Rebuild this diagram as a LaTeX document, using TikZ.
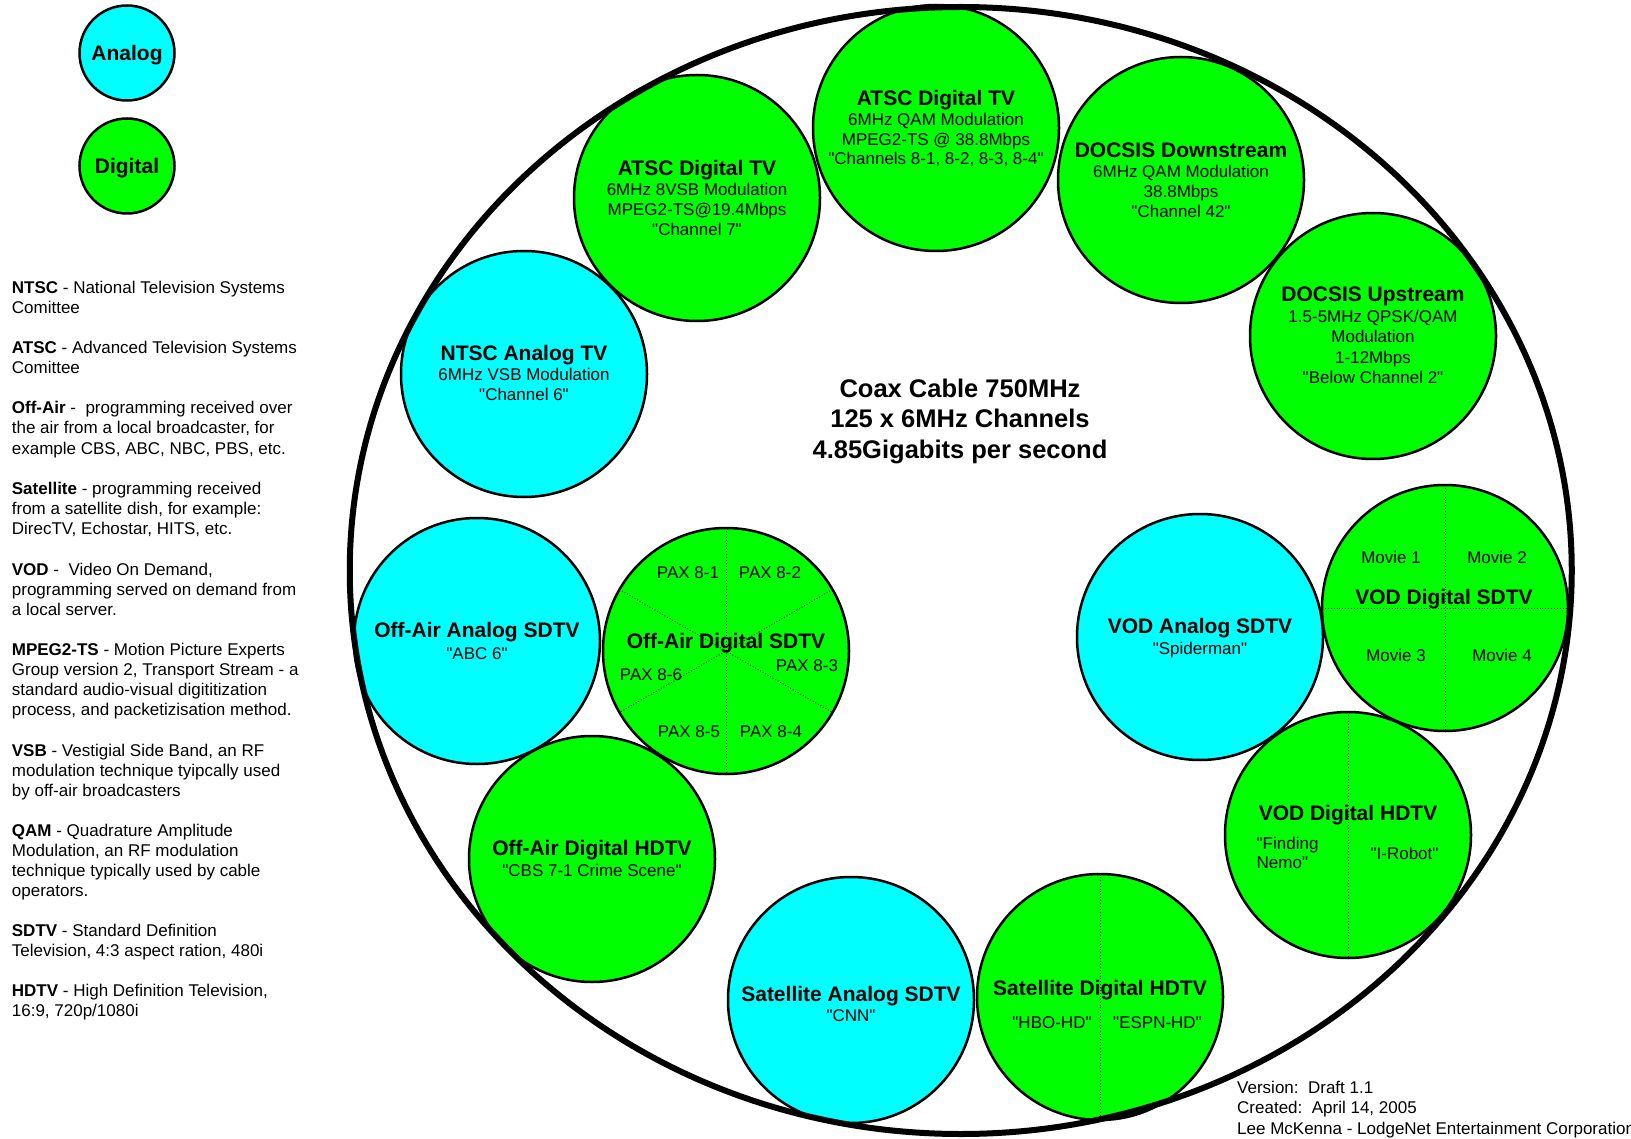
\documentclass[tikz,border=0pt]{standalone}
\usepackage{fontspec}
\setmainfont{Liberation Sans}[Ligatures=TeXOff]
\definecolor{cyanc}{RGB}{0,255,255}
\definecolor{greenc}{RGB}{0,255,0}
\begin{document}
\begin{tikzpicture}[x=1pt,y=-1pt,
  cab/.style={circle,draw=black,line width=2.5pt,minimum size=246pt,inner sep=0pt,outer sep=0pt},
  ana/.style={cab,fill=cyanc},
  dig/.style={cab,fill=greenc},
  ttl/.style={font=\fontsize{21}{21}\selectfont\bfseries,anchor=base,yshift=-7.5pt,inner sep=0pt},
  sb/.style={font=\fontsize{17}{17}\selectfont,anchor=base,yshift=-6pt,inner sep=0pt},
  sbl/.style={sb,anchor=base west},
  ctr/.style={font=\fontsize{25.5}{25.5}\selectfont\bfseries,anchor=base,yshift=-9pt,inner sep=0pt},
  leg/.style={font=\fontsize{17}{17}\selectfont,anchor=base west,yshift=-6pt,inner sep=0pt},
  divl/.style={dotted,line width=0.9pt},
  ]
\useasboundingbox[fill=white] (0,0) rectangle (1631,1139);

% legend circles
\node[ana,minimum size=95pt] (lana) at (127,53) {};
\node[ttl] (lanat) at (127,53) {Analog};
\node[dig,minimum size=95pt] (ldig) at (127,166) {};
\node[ttl] (ldigt) at (127,166) {Digital};

% legend text
\foreach \y/\t in {288/{\textbf{NTSC} - National Television Systems},
  308/{Comittee},
  348/{\textbf{ATSC} - Advanced Television Systems},
  368/{Comittee},
  408/{\textbf{Off-Air} -\ \ programming received over},
  428/{the air from a local broadcaster, for},
  448/{example CBS, ABC, NBC, PBS, etc.},
  488/{\textbf{Satellite} - programming received},
  508/{from a satellite dish, for example:},
  528/{DirecTV, Echostar, HITS, etc.},
  569/{\textbf{VOD} -\ \ Video On Demand,},
  589/{programming served on demand from},
  609/{a local server.},
  649/{\textbf{MPEG2-TS} - Motion Picture Experts},
  669/{Group version 2, Transport Stream - a},
  689/{standard audio-visual digititization},
  709/{process, and packetizisation method.},
  750/{\textbf{VSB} - Vestigial Side Band, an RF},
  770/{modulation technique tyipcally used},
  790/{by off-air broadcasters},
  830/{\textbf{QAM} - Quadrature Amplitude},
  850/{Modulation, an RF modulation},
  870/{technique typically used by cable},
  890/{operators.},
  930/{\textbf{SDTV} - Standard Definition},
  950/{Television, 4:3 aspect ration, 480i},
  990/{\textbf{HDTV} - High Definition Television,},
  1010/{16:9, 720p/1080i}}
  {\node[leg] (L\y) at (11.7,\y) {\t};}

% channel circles
\node[ana] (ntsc) at (524,374) {};
\node[dig] (atsc8) at (697,198) {};
\node[dig] (atscq) at (936,128) {};
\node[dig] (dsd) at (1181,180) {};
\node[dig] (dsu) at (1373,336) {};
\node[ana] (oaa) at (477,641) {};
\node[dig] (oas) at (726,651) {};
\node[dig] (oah) at (592,859) {};
\node[ana] (sata) at (851,1000) {};
\node[dig] (sath) at (1100,997) {};
\node[ana] (voda) at (1200,637) {};
\node[dig] (vods) at (1445,608) {};
\node[dig] (vodh) at (1348,835) {};

% dividers
\draw[divl] (oas.90) -- (oas.270);
\draw[divl] (oas.150) -- (oas.-30);
\draw[divl] (oas.30) -- (oas.210);
\draw[divl] (vods.90) -- (vods.270);
\draw[divl] (vods.180) -- (vods.0);
\draw[divl] (vodh.90) -- (vodh.270);
\draw[divl] (sath.90) -- (sath.270);

% texts
\node[ttl] (atsc8t) at (697,168.5) {ATSC Digital TV};
\node[sb] (atsc8a) at (697,190) {6MHz 8VSB Modulation};
\node[sb] (atsc8b) at (697,210) {MPEG2-TS@19.4Mbps};
\node[sb] (atsc8c) at (697,230) {"Channel 7"};

\node[ttl] (atscqt) at (936,98) {ATSC Digital TV};
\node[sb] (atscqa) at (936,120) {6MHz QAM Modulation};
\node[sb] (atscqb) at (936,139.5) {MPEG2-TS @ 38.8Mbps};
\node[sb] (atscqc) at (936,159) {"Channels 8-1, 8-2, 8-3, 8-4"};

\node[ttl] (dsdt) at (1181,150) {DOCSIS Downstream};
\node[sb] (dsda) at (1181,172) {6MHz QAM Modulation};
\node[sb] (dsdb) at (1181,192) {38.8Mbps};
\node[sb] (dsdc) at (1181,212) {"Channel 42"};

\node[ttl] (dsut) at (1373,294.5) {DOCSIS Upstream};
\node[sb] (dsua) at (1373,316.5) {1.5-5MHz QPSK/QAM};
\node[sb] (dsub) at (1373,337) {Modulation};
\node[sb] (dsuc) at (1373,358) {1-12Mbps};
\node[sb] (dsud) at (1373,378) {"Below Channel 2"};

\node[ttl] (ntsct) at (524,353) {NTSC Analog TV};
\node[sb] (ntsca) at (524,374.5) {6MHz VSB Modulation};
\node[sb] (ntscb) at (524,395) {"Channel 6"};

\node[ttl] (oaat) at (477,630) {Off-Air Analog SDTV};
\node[sb] (oaaa) at (477,653) {"ABC 6"};

\node[ttl] (oast) at (726,641) {Off-Air Digital SDTV};
\node[sb] (pax1) at (688,572) {PAX 8-1};
\node[sb] (pax2) at (770,572) {PAX 8-2};
\node[sb] (pax3) at (807,665) {PAX 8-3};
\node[sb] (pax4) at (771,731) {PAX 8-4};
\node[sb] (pax5) at (689,731) {PAX 8-5};
\node[sb] (pax6) at (651,674) {PAX 8-6};

\node[ttl] (oaht) at (592,848) {Off-Air Digital HDTV};
\node[sb] (oaha) at (592,870) {"CBS 7-1 Crime Scene"};

\node[ttl] (satat) at (851,993.5) {Satellite Analog SDTV};
\node[sb] (sataa) at (851,1015) {"CNN"};

\node[ttl] (satht) at (1100,988) {Satellite Digital HDTV};
\node[sb] (satha) at (1052,1022.5) {"HBO-HD"};
\node[sb] (sathb) at (1157.5,1022.5) {"ESPN-HD"};

\node[ttl] (vodat) at (1200,626) {VOD Analog SDTV};
\node[sb] (vodaa) at (1200,648) {"Spiderman"};

\node[ttl] (vodst) at (1444,597) {VOD Digital SDTV};
\node[sb] (mov1) at (1391,557) {Movie 1};
\node[sb] (mov2) at (1497,557) {Movie 2};
\node[sb] (mov3) at (1396,655) {Movie 3};
\node[sb] (mov4) at (1502,655) {Movie 4};

\node[ttl] (vodht) at (1348,813) {VOD Digital HDTV};
\node[sbl] (vodha) at (1256.5,843) {"Finding};
\node[sbl] (vodhb) at (1256.5,862.5) {Nemo"};
\node[sb] (vodhc) at (1404.5,853) {"I-Robot"};

% centre text
\node[ctr] (c1) at (960,389) {Coax Cable 750MHz};
\node[ctr] (c2) at (960,419) {125 x 6MHz Channels};
\node[ctr] (c3) at (960,449.5) {4.85Gigabits per second};

% cable outline
\draw[line width=6pt] (960.75,570.5) ellipse [x radius=611, y radius=563.5];

% footer
\node[leg] (f1) at (1237,1087) {Version:\ \ Draft 1.1};
\node[leg] (f2) at (1237,1107.5) {Created:\ \ April 14, 2005};
\node[leg] (f3) at (1237,1128) {Lee McKenna - LodgeNet Entertainment Corporation};
\end{tikzpicture}
\end{document}
